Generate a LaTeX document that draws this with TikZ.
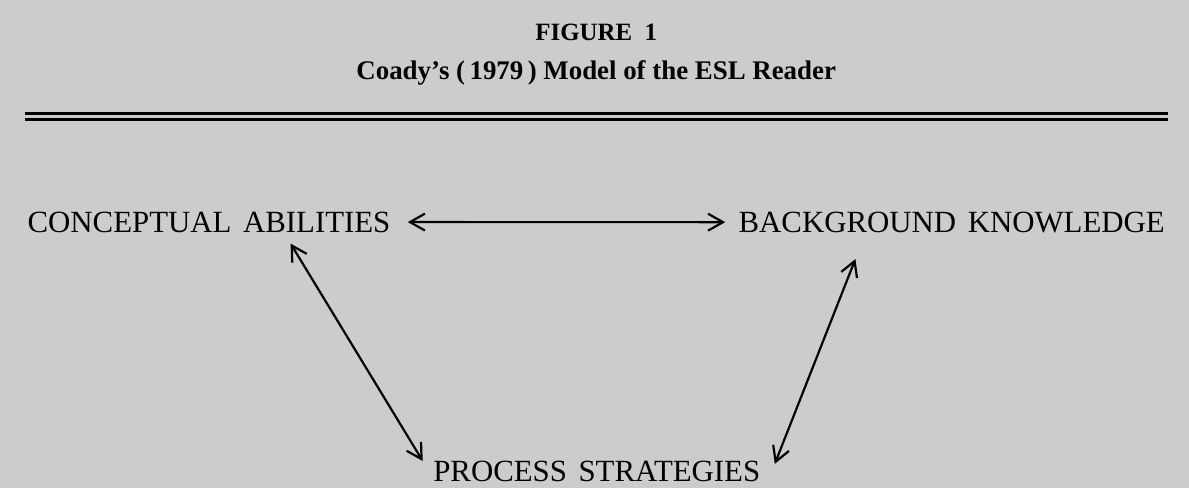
\documentclass[tikz,border=0pt]{standalone}
\usepackage{fontspec}
\setmainfont{Liberation Serif}
\newfontfamily\cajafont[WordSpace=1.5]{Liberation Serif}
\usepackage{tikz}
\usetikzlibrary{arrows.meta}

\tikzset{
  etiqueta/.style={inner sep=0pt, font=\cajafont\fontsize{15.5}{18}\selectfont},
  titulo/.style={inner sep=0pt, anchor=base, font=\bfseries\fontsize{13.5}{16}\selectfont},
  flecha/.style={<->, line width=1.1pt}
}

\begin{document}
\begin{tikzpicture}[>={Straight Barb[length=7.5pt,width=8.5pt]}]
% Fondo
\fill[black!20] (0,0) rectangle (21,8.62);
% Título
\node[titulo, font=\bfseries\fontsize{12.5}{15}\selectfont] (fig) at (10.53,7.91) {FIGURE\ \ 1};
\node[titulo] (tit) at (10.53,7.21) {Coady's (\,1979\,) Model of the ESL Reader};
% Doble línea
\draw[line width=1.3pt] (0.44,6.62) -- (20.63,6.62);
\draw[line width=1.2pt] (0.44,6.51) -- (20.63,6.51);
% Conceptos
\node[etiqueta, anchor=base west] (conc) at (0.48,4.52) {CONCEPTUAL ABILITIES};
\node[etiqueta, anchor=base east] (back) at (20.58,4.52) {BACKGROUND KNOWLEDGE};
\node[etiqueta, anchor=base] (proc) at (10.54,0.11) {PROCESS STRATEGIES};
% Flechas
\draw[flecha] ([xshift=0.3cm]conc.east) -- ([xshift=-0.23cm]back.west);
\draw[flecha] ([xshift=-1.77cm,yshift=-0.19cm]conc.south east) -- ([xshift=-0.18cm]proc.north west);
\draw[flecha] ([xshift=0.25cm,yshift=-0.05cm]proc.north east) -- ([xshift=2.07cm,yshift=-0.46cm]back.south west);
\end{tikzpicture}
\end{document}
